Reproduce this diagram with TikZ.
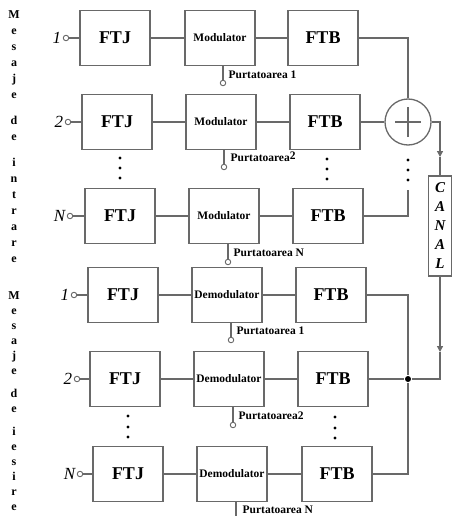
\documentclass[tikz,border=0pt]{standalone}
\usepackage{fontspec}
\setmainfont{Liberation Serif}
\usetikzlibrary{arrows.meta}
\definecolor{wire}{RGB}{105,105,105}

\begin{document}
\begin{tikzpicture}[x=1pt, y=-1pt, line width=1.3pt, color=wire,
        every node/.append style={text=black},
        blk/.style={draw=wire, fill=white, minimum width=70pt, minimum height=55pt, inner sep=0pt},
        filt/.style={blk, font=\bfseries\fontsize{18}{18}\selectfont},
        modbox/.style={blk, font=\bfseries\fontsize{11.5}{12}\selectfont},
        lbl/.style={anchor=west, inner sep=0pt, font=\bfseries\fontsize{11.5}{12}\selectfont},
        inp/.style={anchor=east, inner sep=1pt, font=\itshape\fontsize{17}{17}\selectfont},
        port/.style={circle, draw=wire, fill=white, line width=0.9pt, inner sep=0pt, minimum size=5.5pt},
        tip/.style={-{Triangle[length=6pt,width=6pt]}}]
        \useasboundingbox (0,0) rectangle (452,516);

        % vertical titles
        \node[anchor=north, align=center, inner sep=0pt, font=\bfseries\fontsize{12}{16}\selectfont] (tin) at (14,10)
            {M\\e\\s\\a\\j\\e\\[10pt]d\\e\\[10pt]i\\n\\t\\r\\a\\r\\e};
        \node[anchor=north, align=center, inner sep=0pt, font=\bfseries\fontsize{12}{15}\selectfont] (tout) at (14,291)
            {M\\e\\s\\a\\j\\e\\[8pt]d\\e\\[8pt]i\\e\\s\\i\\r\\e};

        % emission, row 1
        \node[port] (in1) at (66,38) {};
        \node[inp] (lin1) at (in1.west) {1};
        \node[filt] (ftj1) at (115,38) {FTJ};
        \node[modbox] (mod1) at (220,38) {Modulator};
        \node[filt] (ftb1) at (323,38) {FTB};
        \node[port] (pm1) at (223,83) {};
        \node[lbl] (lpm1) at (228,75) {Purtatoarea 1};
        \draw (in1) -- (ftj1) -- (mod1) -- (ftb1);
        \draw (pm1 |- mod1.south) -- (pm1);

        % emission, row 2
        \node[port] (in2) at (68,122) {};
        \node[inp] (lin2) at (in2.west) {2};
        \node[filt] (ftj2) at (117,122) {FTJ};
        \node[modbox] (mod2) at (221,122) {Modulator};
        \node[filt] (ftb2) at (325,122) {FTB};
        \node[port] (pm2) at (224,167) {};
        \node[lbl] (lpm2) at (230,157) {Purtatoarea\raisebox{2pt}{2}};
        \draw (in2) -- (ftj2) -- (mod2) -- (ftb2);
        \draw (pm2 |- mod2.south) -- (pm2);

        % emission, row N
        \node[port] (inN) at (70,216) {};
        \node[inp] (linN) at (inN.west) {N};
        \node[filt] (ftjN) at (120,216) {FTJ};
        \node[modbox] (modN) at (224,216) {Modulator};
        \node[filt] (ftbN) at (328,216) {FTB};
        \node[port] (pmN) at (228,262) {};
        \node[lbl] (lpmN) at (233,253) {Purtatoarea N};
        \draw (inN) -- (ftjN) -- (modN) -- (ftbN);
        \draw (pmN |- modN.south) -- (pmN);

        \foreach \y in {158,168,178} \fill[black] (120,\y) circle (1.7);
        \foreach \y in {159,169,179} \fill[black] (327,\y) circle (1.7);
        \foreach \y in {160,170,180} \fill[black] (408,\y) circle (1.7);

        % sum and channel
        \node[circle, draw=wire, minimum size=46pt, inner sep=0pt] (sum) at (408,122) {};
        \draw ([xshift=-13pt]sum.center) -- ([xshift=13pt]sum.center);
        \draw ([yshift=-15pt]sum.center) -- ([yshift=15pt]sum.center);
        \coordinate (topN) at (408,190);
        \draw (ftb1.east) -| (sum.north);
        \draw (ftb2.east) -- (sum.west);
        \draw (ftbN.east) -| (topN);

        \node[draw=wire, fill=white, minimum width=23pt, minimum height=100pt, inner sep=0pt, align=center,
            font=\bfseries\itshape\fontsize{15}{19}\selectfont] (canal) at (440,226) {C\\A\\N\\A\\L};
        \coordinate (ar1) at (440,157);
        \coordinate (ar2) at (440,352);
        \draw[tip] (sum.east) -| (ar1);
        \draw (ar1) -- (canal.north);
        \draw[tip] (canal.south) -- (ar2);

        % reception, row 1
        \node[port] (out1) at (74,295) {};
        \node[inp] (lout1) at (out1.west) {1};
        \node[filt] (rftj1) at (123,295) {FTJ};
        \node[modbox] (dem1) at (227,295) {Demodulator};
        \node[filt] (rftb1) at (331,295) {FTB};
        \node[port] (pd1) at (231,340) {};
        \node[lbl] (lpd1) at (236,331) {Purtatoarea 1};
        \draw (out1) -- (rftj1) -- (dem1) -- (rftb1);
        \draw (pd1 |- dem1.south) -- (pd1);

        % reception, row 2
        \node[port] (out2) at (77,379) {};
        \node[inp] (lout2) at (out2.west) {2};
        \node[filt] (rftj2) at (125,379) {FTJ};
        \node[modbox] (dem2) at (229,379) {Demodulator};
        \node[filt] (rftb2) at (333,379) {FTB};
        \node[port] (pd2) at (233,425) {};
        \node[lbl] (lpd2) at (238,416) {Purtatoarea2};
        \draw (out2) -- (rftj2) -- (dem2) -- (rftb2);
        \draw (pd2 |- dem2.south) -- (pd2);

        % reception, row N
        \node[port] (outN) at (80,474) {};
        \node[inp] (loutN) at (outN.west) {N};
        \node[filt] (rftjN) at (128,474) {FTJ};
        \node[modbox] (demN) at (232,474) {Demodulator};
        \node[filt] (rftbN) at (337,474) {FTB};
        \coordinate (pdN) at (236,516);
        \node[lbl] (lpdN) at (242,510) {Purtatoarea N};
        \draw (outN) -- (rftjN) -- (demN) -- (rftbN);
        \draw (pdN |- demN.south) -- (pdN);

        \foreach \y in {416,427,437} \fill[black] (128,\y) circle (1.7);
        \foreach \y in {417,428,438} \fill[black] (335,\y) circle (1.7);

        % bus
        \node[circle, fill=black, inner sep=0pt, minimum size=6pt] (jn) at (408,379) {};
        \draw (rftb1.east) -| (jn);
        \draw (rftb2.east) -- (jn);
        \draw (rftbN.east) -| (jn);
        \draw (ar2) |- (jn);
    \end{tikzpicture}
\end{document}
